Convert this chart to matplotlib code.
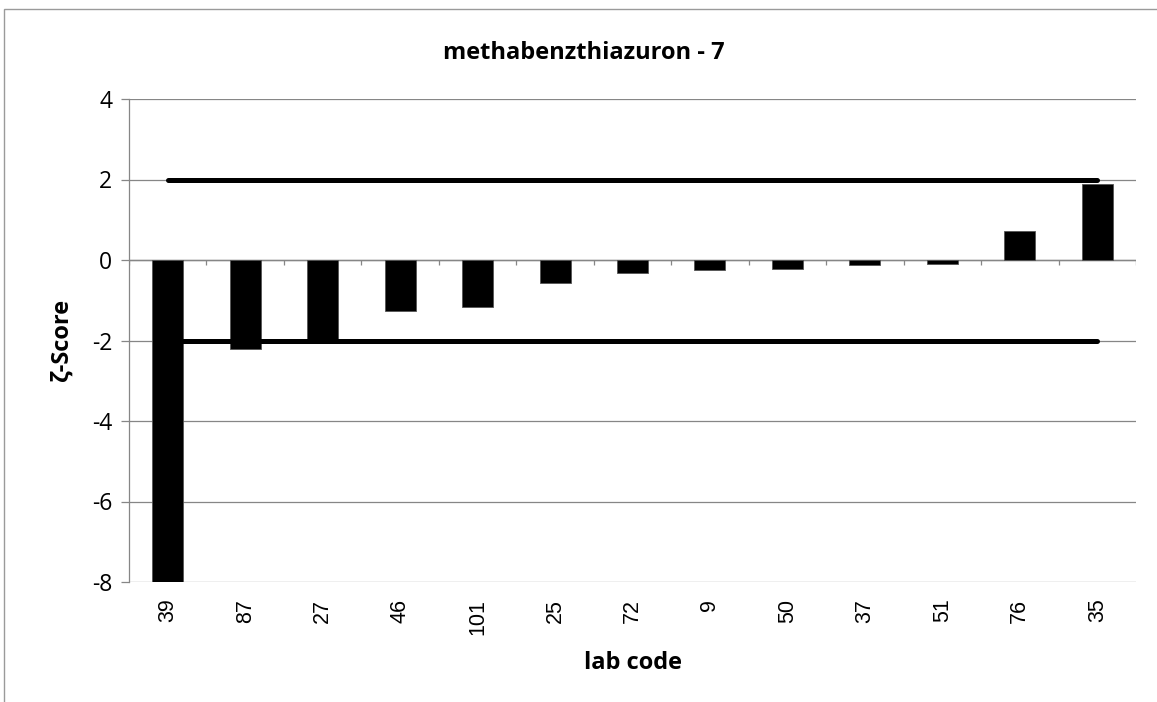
import numpy as np
import matplotlib
matplotlib.use("Agg")
import matplotlib.pyplot as plt
from matplotlib.patches import Rectangle

# ---- data ----
lab_codes = ["39", "87", "27", "46", "101", "25", "72", "9", "50", "37", "51", "76", "35"]
zeta_scores = [-8.4, -2.21, -2.03, -1.27, -1.17, -0.56, -0.33, -0.26, -0.23, -0.12, -0.10, 0.71, 1.90]
limit_upper = 2
limit_lower = -2
y_ticks = [-8, -6, -4, -2, 0, 2, 4]

title_txt = "methabenzthiazuron - 7"
x_label = "lab code"
y_label = "ζ-Score"

GRID = "#868686"
calibri_like = ["Open Sans", "DejaVu Sans"]
arial_like = ["Liberation Sans", "DejaVu Sans"]

fig = plt.figure(figsize=(11.57, 7.02), dpi=100)
ax = fig.add_axes([129 / 1157, 120 / 702, 1007 / 1157, 483 / 702])

# outer chart border (gray frame like the excel chart area)
fig.patches.append(Rectangle((4 / 1157, -0.01), 1.2, (702 - 9) / 702 + 0.01,
                             transform=fig.transFigure, fill=False,
                             edgecolor="#9a9a9a", linewidth=1.0))

x = np.arange(len(lab_codes))
ax.bar(x, zeta_scores, width=0.4, color="black", edgecolor="#555555", linewidth=0.6, zorder=3)

# limit lines at +/-2 from first to last lab
ax.plot([x[0], x[-1]], [limit_upper, limit_upper], color="black", lw=3.6,
        solid_capstyle="round", zorder=4)
ax.plot([x[0], x[-1]], [limit_lower, limit_lower], color="black", lw=3.6,
        solid_capstyle="round", zorder=4)

ax.set_xlim(-0.5, len(lab_codes) - 0.5)
ax.set_ylim(-8, 4)
ax.set_yticks(y_ticks)
ax.set_yticklabels([str(v) for v in y_ticks], fontsize=16.5, family=calibri_like)
ax.yaxis.grid(True, color=GRID, linewidth=0.9, zorder=0)
ax.set_axisbelow(True)
ax.tick_params(axis="y", length=6, width=0.9, color=GRID, pad=6)

# horizontal category axis sits at zero
ax.axhline(0, color=GRID, linewidth=1.0, zorder=2)
bounds = np.arange(len(lab_codes) + 1) - 0.5
ax.vlines(bounds, -5 / 40.25, 0, color=GRID, linewidth=0.9, zorder=2)

ax.set_xticks(x)
ax.set_xticklabels(lab_codes, rotation=90, fontsize=15.5, family=arial_like)
ax.tick_params(axis="x", length=0, pad=12)

for side in ["top", "right", "bottom"]:
    ax.spines[side].set_visible(False)
ax.spines["left"].set_color(GRID)
ax.spines["left"].set_linewidth(0.9)

fig.text(584 / 1157, 1 - 53 / 702, title_txt, ha="center", va="center",
         fontsize=17, fontweight="bold", family=calibri_like)
fig.text(633 / 1157, 1 - 663 / 702, x_label, ha="center", va="center",
         fontsize=17, fontweight="bold", family=calibri_like)
fig.text(62 / 1157, 1 - 340 / 702, y_label, ha="center", va="center", rotation=90,
         fontsize=17, fontweight="bold", family=calibri_like)

fig.savefig("out.png", dpi=100)
